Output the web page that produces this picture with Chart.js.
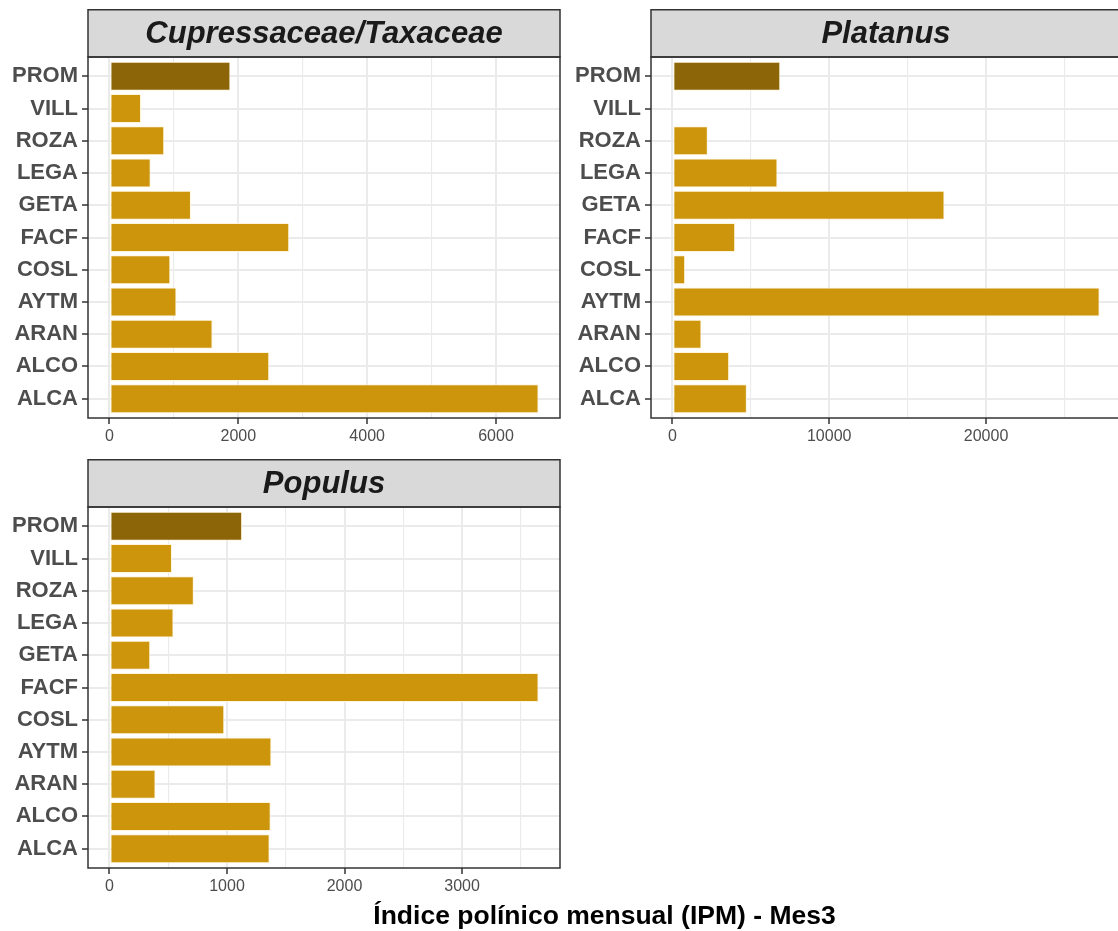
<!DOCTYPE html>
<html lang="es">
<head>
<meta charset="UTF-8">
<title>Índice polínico mensual (IPM) - Mes3</title>
<script src="https://cdn.jsdelivr.net/npm/chart.js@4.4.1/dist/chart.umd.min.js"></script>
<style>
  html, body { margin: 0; padding: 0; background: #fff; overflow: hidden; }
  body { width: 1118px; height: 931px; position: relative; font-family: "Liberation Sans", Arial, sans-serif; }
  canvas { position: absolute; }
  #tituloX { position: absolute; left: 88px; width: 1033px; top: 900px; text-align: center;
             font-weight: bold; font-size: 26.5px; line-height: 30px; color: #000; white-space: nowrap; }
</style>
</head>
<body>
<canvas id="g1" width="563" height="449" style="left:0;top:9px"></canvas>
<canvas id="g2" width="565" height="449" style="left:560px;top:9px"></canvas>
<canvas id="g3" width="563" height="449" style="left:0;top:459px"></canvas>
<div id="tituloX">Índice polínico mensual (IPM) - Mes3</div>

<script>
// estaciones, de abajo hacia arriba
const estaciones = ['ALCA', 'ALCO', 'ARAN', 'AYTM', 'COSL', 'FACF', 'GETA', 'LEGA', 'ROZA', 'VILL', 'PROM'];

const cupressaceae = [6660, 2480, 1600, 1040, 945, 2790, 1265, 640, 850, 490, 1877];
const platanus     = [4750, 3620, 1855, 27240, 815, 4005, 17350, 6700, 2260, 70, 6880];
const populus      = [1363, 1372, 392, 1378, 977, 3651, 347, 545, 718, 532, 1129];

const marcasCup = [0, 2000, 4000, 6000];
const marcasPla = [0, 10000, 20000];
const marcasPop = [0, 1000, 2000, 3000];

const ORO = '#CD950C';
const ORO_OSCURO = '#8B6508';
const FUENTE = '"Liberation Sans", Arial, sans-serif';

// franja gris con el nombre del taxon y borde del panel
const franja = {
  id: 'franja',
  afterDraw(chart, args, opts) {
    const { ctx, chartArea: a } = chart;
    ctx.save();
    ctx.fillStyle = '#D9D9D9';
    ctx.fillRect(a.left, 0.75, a.right - a.left, a.top - 0.75);
    ctx.strokeStyle = '#333333';
    ctx.lineWidth = 1.5;
    ctx.strokeRect(a.left, 0.75, a.right - a.left, a.top - 0.75);
    ctx.strokeRect(a.left, a.top, a.right - a.left, a.bottom - a.top);
    ctx.fillStyle = '#1A1A1A';
    ctx.font = 'italic bold 31px ' + FUENTE;
    ctx.textAlign = 'center';
    ctx.textBaseline = 'middle';
    ctx.fillText(opts.texto, (a.left + a.right) / 2, a.top / 2 + 1);
    ctx.restore();
  }
};

function crearPanel(id, texto, valores, marcas, anchoY, derecha) {
  const maxV = Math.max(...valores);
  const xmin = -0.05 * maxV, xmax = 1.05 * maxV;
  const paso = marcas[1] - marcas[0];
  const menores = [];
  marcas.forEach(m => {
    if (m + paso / 2 <= xmax) menores.push(m + paso / 2);
  });
  const todas = marcas.concat(menores).sort((a, b) => a - b);
  const esMayor = v => marcas.includes(v);

  new Chart(document.getElementById(id), {
    type: 'bar',
    data: {
      datasets: [{
        data: estaciones.map((e, i) => ({ x: valores[i], y: i })),
        backgroundColor: estaciones.map(e => e === 'PROM' ? ORO_OSCURO : ORO),
        borderColor: 'rgba(255,244,214,0.9)',
        borderWidth: 1,
        borderSkipped: false,
        barPercentage: 0.9,
        categoryPercentage: 1
      }]
    },
    plugins: [franja],
    options: {
      indexAxis: 'y',
      responsive: false,
      animation: false,
      devicePixelRatio: 1,
      layout: { padding: { top: 48, right: derecha, left: 0, bottom: 0 } },
      plugins: {
        legend: { display: false },
        tooltip: { enabled: false },
        franja: { texto: texto }
      },
      scales: {
        x: {
          type: 'linear',
          min: xmin,
          max: xmax,
          afterBuildTicks: s => { s.ticks = todas.map(v => ({ value: v })); },
          afterFit: s => { s.height = 40; },
          border: { display: false },
          grid: {
            color: '#EBEBEB',
            lineWidth: c => esMayor(c.tick.value) ? 2 : 1.1,
            tickColor: c => esMayor(c.tick.value) ? '#333333' : 'rgba(0,0,0,0)',
            tickWidth: c => esMayor(c.tick.value) ? 1.5 : 0,
            tickLength: 6,
            drawTicks: true
          },
          ticks: {
            autoSkip: false,
            maxRotation: 0,
            padding: 3,
            color: '#4D4D4D',
            font: { family: FUENTE, size: 16 },
            callback: v => esMayor(v) ? String(v) : ''
          }
        },
        y: {
          type: 'linear',
          offset: false,
          min: -0.6,
          max: estaciones.length - 0.4,
          afterBuildTicks: s => { s.ticks = estaciones.map((e, i) => ({ value: i })); },
          afterFit: s => { s.width = anchoY; },
          border: { display: false },
          grid: {
            offset: false,
            color: '#EBEBEB',
            lineWidth: 2,
            tickColor: '#333333',
            tickWidth: 1.5,
            tickLength: 6,
            drawTicks: true
          },
          ticks: {
            autoSkip: false,
            padding: 4,
            color: '#4D4D4D',
            font: { family: FUENTE, size: 22, weight: 'bold' },
            callback: v => estaciones[v]
          }
        }
      }
    }
  });
}

crearPanel('g1', 'Cupressaceae/Taxaceae', cupressaceae, marcasCup, 88, 3);
crearPanel('g2', 'Platanus', platanus, marcasPla, 91, 4);
crearPanel('g3', 'Populus', populus, marcasPop, 88, 3);
</script>
</body>
</html>
